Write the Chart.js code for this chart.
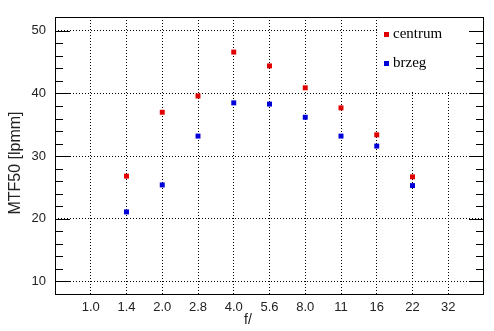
<!DOCTYPE html>
<html>
<head>
<meta charset="utf-8">
<script src="https://cdn.jsdelivr.net/npm/chart.js@4/dist/chart.umd.min.js"></script>
<style>
  html, body { margin: 0; padding: 0; background: #fff; }
  #wrap { width: 494px; height: 331px; }
</style>
</head>
<body>
<div id="wrap"><canvas id="chart" width="494" height="331"></canvas></div>
<script>
// f-stops along the x axis
const fStops = ['1.0', '1.4', '2.0', '2.8', '4.0', '5.6', '8.0', '11', '16', '22', '32'];
const centrum = [null, 26.8, 37.0, 39.6, 46.6, 44.4, 40.9, 37.7, 33.4, 26.7, null];
const brzeg   = [null, 21.1, 25.4, 33.2, 38.5, 38.3, 36.2, 33.2, 31.6, 25.3, null];
const yTicks = [10, 20, 30, 40, 50];
const seriesNames = ['centrum', 'brzeg'];
const seriesColors = ['#e00000', '#0000d8'];

function toPoints(values) {
    return values
        .map((v, i) => (v === null ? null : { x: i + 1, y: v }))
        .filter(p => p !== null);
}

// frame, inner tick marks, legend box and axis titles
const decorations = {
    id: 'decorations',
    afterDraw(chart) {
        const ctx = chart.ctx;
        const area = chart.chartArea;
        const yScale = chart.scales.y;
        ctx.save();

        // legend box covers the grid in the top right corner
        ctx.fillStyle = '#fff';
        ctx.fillRect(377, area.top + 1, area.right - 378, 72);
        ctx.font = '15px "Liberation Serif", serif';
        ctx.textBaseline = 'middle';
        ctx.textAlign = 'left';
        seriesNames.forEach((name, i) => {
            const y = 34 + i * 29;
            ctx.fillStyle = seriesColors[i];
            ctx.fillRect(384, y - 2, 5, 5);
            ctx.fillStyle = '#000';
            ctx.fillText(name, 393, y);
        });

        // inner tick marks, left and right
        ctx.strokeStyle = '#000';
        ctx.lineWidth = 1;
        ctx.beginPath();
        for (let v = 10; v <= 50; v += 2) {
            const y = Math.round(yScale.getPixelForValue(v)) + 0.5;
            const len = v % 10 === 0 ? 15 : 8;
            ctx.moveTo(area.left, y);
            ctx.lineTo(area.left + len, y);
            ctx.moveTo(area.right, y);
            ctx.lineTo(area.right - len, y);
        }
        ctx.stroke();

        // frame
        ctx.strokeRect(area.left + 0.5, area.top + 0.5, area.right - area.left - 1, area.bottom - area.top);

        // axis titles
        ctx.fillStyle = '#222';
        ctx.font = '14px "Liberation Sans", Arial, sans-serif';
        ctx.textAlign = 'center';
        ctx.fillText('f/', 248, 320);
        ctx.translate(16, 163);
        ctx.rotate(-Math.PI / 2);
        ctx.font = '16px "Liberation Sans", Arial, sans-serif';
        ctx.fillText('MTF50 [lpmm]', 0, 0);
        ctx.restore();
    }
};

const ctx = document.getElementById('chart');
new Chart(ctx, {
    type: 'scatter',
    data: {
        datasets: [
            {
                label: seriesNames[0],
                data: toPoints(centrum),
                backgroundColor: seriesColors[0],
                pointStyle: 'rect',
                pointRadius: 3.5,
                pointBorderWidth: 0
            },
            {
                label: seriesNames[1],
                data: toPoints(brzeg),
                backgroundColor: seriesColors[1],
                pointStyle: 'rect',
                pointRadius: 3.5,
                pointBorderWidth: 0
            }
        ]
    },
    options: {
        responsive: false,
        animation: false,
        events: [],
        layout: { padding: { left: 0, top: 17, right: 10, bottom: 0 } },
        plugins: {
            legend: { display: false },
            tooltip: { enabled: false }
        },
        scales: {
            x: {
                type: 'linear',
                min: 0,
                max: fStops.length + 1,
                afterBuildTicks(scale) {
                    scale.ticks = fStops.map((s, i) => ({ value: i + 1 }));
                },
                afterFit(scale) { scale.height = 37; },
                grid: {
                    color: '#000',
                    lineWidth: 1,
                    drawTicks: false,
                    tickLength: 0
                },
                border: { display: false, dash: [1, 2] },
                ticks: {
                    padding: 6,
                    color: '#222',
                    font: { family: '"Liberation Sans", Arial, sans-serif', size: 13 },
                    maxRotation: 0,
                    autoSkip: false,
                    callback: (value) => fStops[value - 1] || ''
                }
            },
            y: {
                min: 8,
                max: 52.2,
                afterBuildTicks(scale) {
                    scale.ticks = yTicks.map(v => ({ value: v }));
                },
                afterFit(scale) { scale.width = 55; },
                grid: {
                    color: '#000',
                    lineWidth: 1,
                    drawTicks: false,
                    tickLength: 0
                },
                border: { display: false, dash: [1, 2] },
                ticks: {
                    padding: 9,
                    color: '#222',
                    font: { family: '"Liberation Sans", Arial, sans-serif', size: 13 }
                }
            }
        }
    },
    plugins: [decorations]
});
</script>
</body>
</html>
